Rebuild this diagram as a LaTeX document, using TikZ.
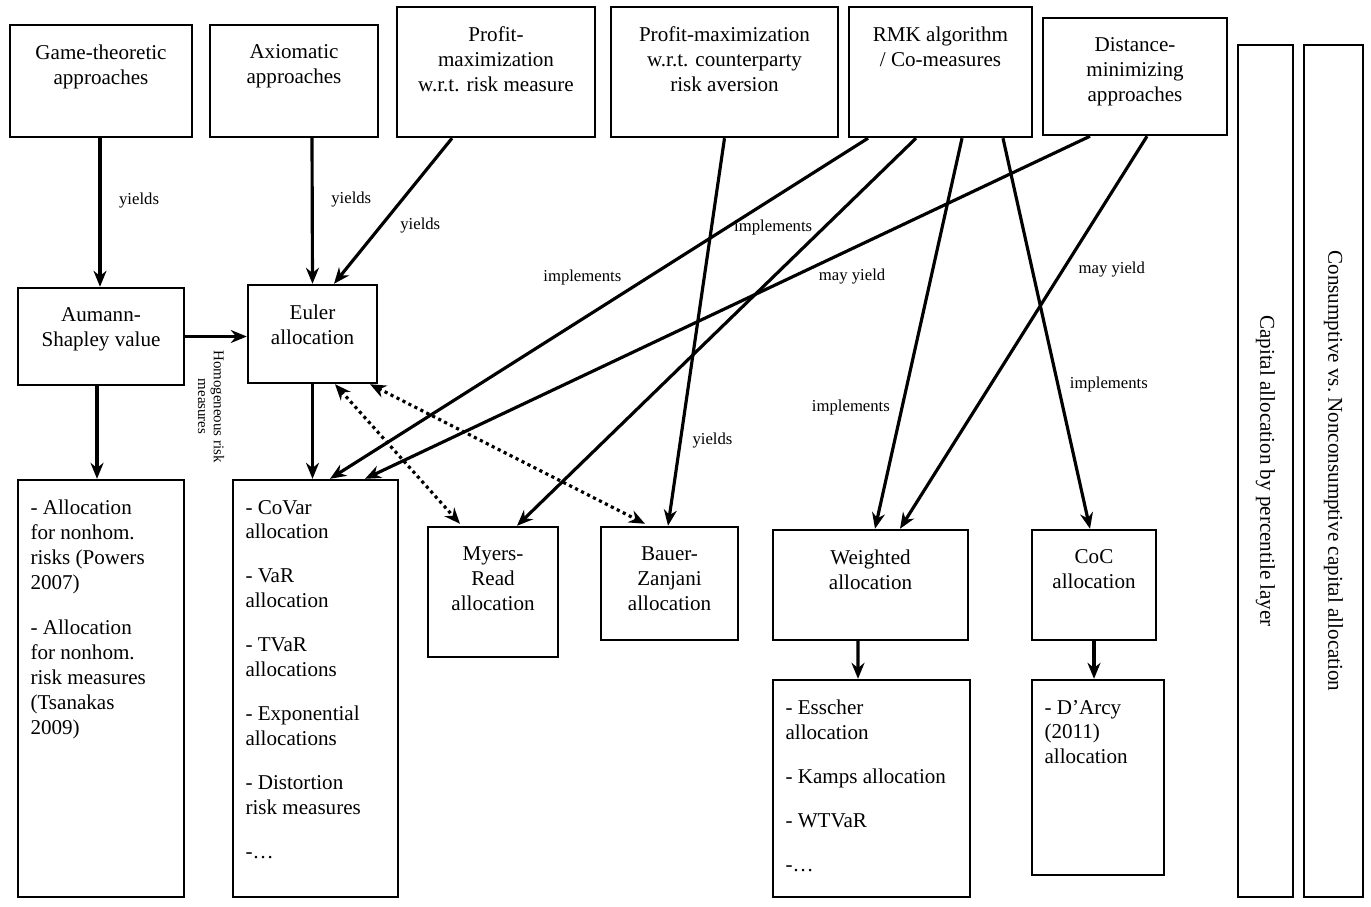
\documentclass[tikz,border=0pt]{standalone}
\usepackage{fontspec}
\setmainfont{Liberation Serif}
\usetikzlibrary{arrows.meta,calc}
\newcommand{\cell}[4]{\parbox[c][#2][t]{#1}{\vspace*{0.4cm}#3#4}}
\tikzset{%
  box/.style   = {draw, line width=1.4pt, inner sep=0pt,%
                  font=\fontsize{12}{14.2}\selectfont},%
  list/.style  = {box, inner xsep=0.25cm},%
  side/.style  = {box, rotate=-90, minimum height=#1, minimum width=17.04cm},%
  link/.style  = {line width=1.8pt, -{Stealth[length=3.2mm,width=2.6mm]}},%
  maybe/.style = {line width=1.8pt, dotted,%
                  {Stealth[length=3.2mm,width=2.6mm]}-{Stealth[length=3.2mm,width=2.6mm]}},%
  lab/.style   = {font=\fontsize{9.5}{11}\selectfont, inner sep=2pt}%
}
\begin{document}
\begin{tikzpicture}[x=0.02cm,y=-0.02cm]
	\useasboundingbox (0,0) rectangle (1371,906);
	% top row
	\node[box] (game) at (101,81) {\cell{3.64cm}{2.24cm}{\centering}{Game-theoretic\\approaches}};
	\node[box] (axio) at (294,81) {\cell{3.36cm}{2.24cm}{\centering}{Axiomatic\\approaches}};
	\node[box] (pmrisk) at (496,72) {\cell{3.96cm}{2.6cm}{\centering}{Profit-\\maximization\\w.r.t. risk measure}};
	\node[box] (pmcp) at (724.5,72) {\cell{4.54cm}{2.6cm}{\centering}{Profit-maximization\\w.r.t. counterparty\\risk aversion}};
	\node[box] (rmk) at (940.5,72) {\cell{3.66cm}{2.6cm}{\centering}{RMK algorithm\\/ Co-measures}};
	\node[box] (dist) at (1135,76.5) {\cell{3.68cm}{2.34cm}{\centering}{Distance-\\minimizing\\approaches}};
	% side boxes
	\node[side=1.1cm] (pct) at (1265.5,471) {Capital allocation by percentile layer};
	\node[side=1.18cm] (cons) at (1333.5,471) {Consumptive vs.\ Nonconsumptive capital allocation};
	% middle row
	\node[box] (aumann) at (101,336.5) {\cell{3.32cm}{1.94cm}{\centering}{Aumann-\\Shapley value}};
	\node[box] (euler) at (312.5,334) {\cell{2.58cm}{1.96cm}{\centering}{Euler\\allocation}};
	\node[box] (myers) at (493,592) {\cell{2.6cm}{2.6cm}{\centering}{Myers-\\Read\\allocation}};
	\node[box] (bauer) at (669.5,583.5) {\cell{2.74cm}{2.26cm}{\centering}{Bauer-\\Zanjani\\allocation}};
	\node[box] (weighted) at (870.5,585) {\cell{3.9cm}{2.2cm}{\centering}{Weighted\\allocation}};
	\node[box] (coc) at (1094,585) {\cell{2.48cm}{2.2cm}{\centering}{CoC\\allocation}};
	% lists
	\node[list] (nonhom) at (101,688.5) {\cell{2.82cm}{8.34cm}{\raggedright}{%
		- Allocation\\for nonhom.\\risks (Powers\\2007)\\[0.4cm]
		- Allocation\\for nonhom.\\risk measures\\(Tsanakas\\2009)}};
	\node[list] (covar) at (315.5,688.5) {\cell{2.8cm}{8.34cm}{\raggedright}{%
		- CoVar\\allocation\\[0.38cm]
		- VaR\\allocation\\[0.38cm]
		- TVaR\\allocations\\[0.38cm]
		- Exponential\\allocations\\[0.38cm]
		- Distortion\\risk measures\\[0.38cm]
		-\dots}};
	\node[list] (esscher) at (871.5,788.5) {\cell{3.44cm}{4.34cm}{\raggedright}{%
		- Esscher\\allocation\\[0.38cm]
		- Kamps allocation\\[0.38cm]
		- WTVaR\\[0.38cm]
		-\dots}};
	\node[list] (darcy) at (1098,777.5) {\cell{2.14cm}{3.9cm}{\raggedright}{%
		- D’Arcy\\(2011)\\allocation}};
	% connectors
	\draw[link] ([xshift=-0.02cm]game.south) -- node[lab,pos=.42,right=8pt] {yields} ([xshift=-0.02cm]aumann.north);
	\draw[link] ([xshift=0.36cm]axio.south) -- node[lab,pos=.42,right=8pt] {yields} (euler.north);
	\draw[link] ([xshift=-0.88cm]pmrisk.south) -- node[lab,pos=.6,right=8pt] {yields} ([xshift=0.43cm]euler.north);
	\draw[link] (aumann.east) -- node[lab,pos=.42,rotate=-90,align=center,anchor=west,inner xsep=7pt,font=\fontsize{8.5}{9}\selectfont] {Homogeneous risk\\measures} (euler.west |- aumann.east);
	\draw[link] ([xshift=-0.08cm]aumann.south) -- ([xshift=-0.08cm]nonhom.north);
	\draw[link] (euler.south) -- (covar.north -| euler.south);
	\draw[maybe] ([xshift=0.45cm]euler.south) -- ([xshift=-0.66cm,yshift=0.04cm]myers.north);
	\draw[maybe] ([xshift=1.15cm]euler.south) -- ([xshift=-0.49cm,yshift=0.04cm]bauer.north);
	\draw[link] ([xshift=-1.45cm]rmk.south) -- node[lab,pos=.41,left=12pt] {implements} ([xshift=0.29cm]covar.north);
	\draw[link] ([xshift=-0.49cm]rmk.south) -- node[lab,pos=.23,left=4pt] {implements} ([xshift=0.48cm]myers.north);
	\draw[link] ([xshift=0.43cm]rmk.south) -- node[lab,pos=.69,left=4pt] {implements} ([xshift=0.09cm]weighted.north);
	\draw[link] ([xshift=1.25cm]rmk.south) -- node[lab,pos=.63,right=4pt] {implements} ([xshift=-0.08cm]coc.north);
	\draw[link] ([xshift=-0.9cm]dist.south) -- node[lab,pos=.41,right=12pt] {may yield} ([xshift=0.99cm]covar.north);
	\draw[link] ([xshift=0.24cm]dist.south) -- node[lab,pos=.34,right=6pt] {may yield} ([xshift=0.59cm]weighted.north);
	\draw[link] (pmcp.south) -- node[lab,pos=.78,right=4pt] {yields} ([xshift=-0.03cm]bauer.north);
	\draw[link] ([xshift=-0.25cm]weighted.south) -- ([xshift=-0.27cm]esscher.north);
	\draw[link] (coc.south) -- (darcy.north -| coc.south);
\end{tikzpicture}
\end{document}
